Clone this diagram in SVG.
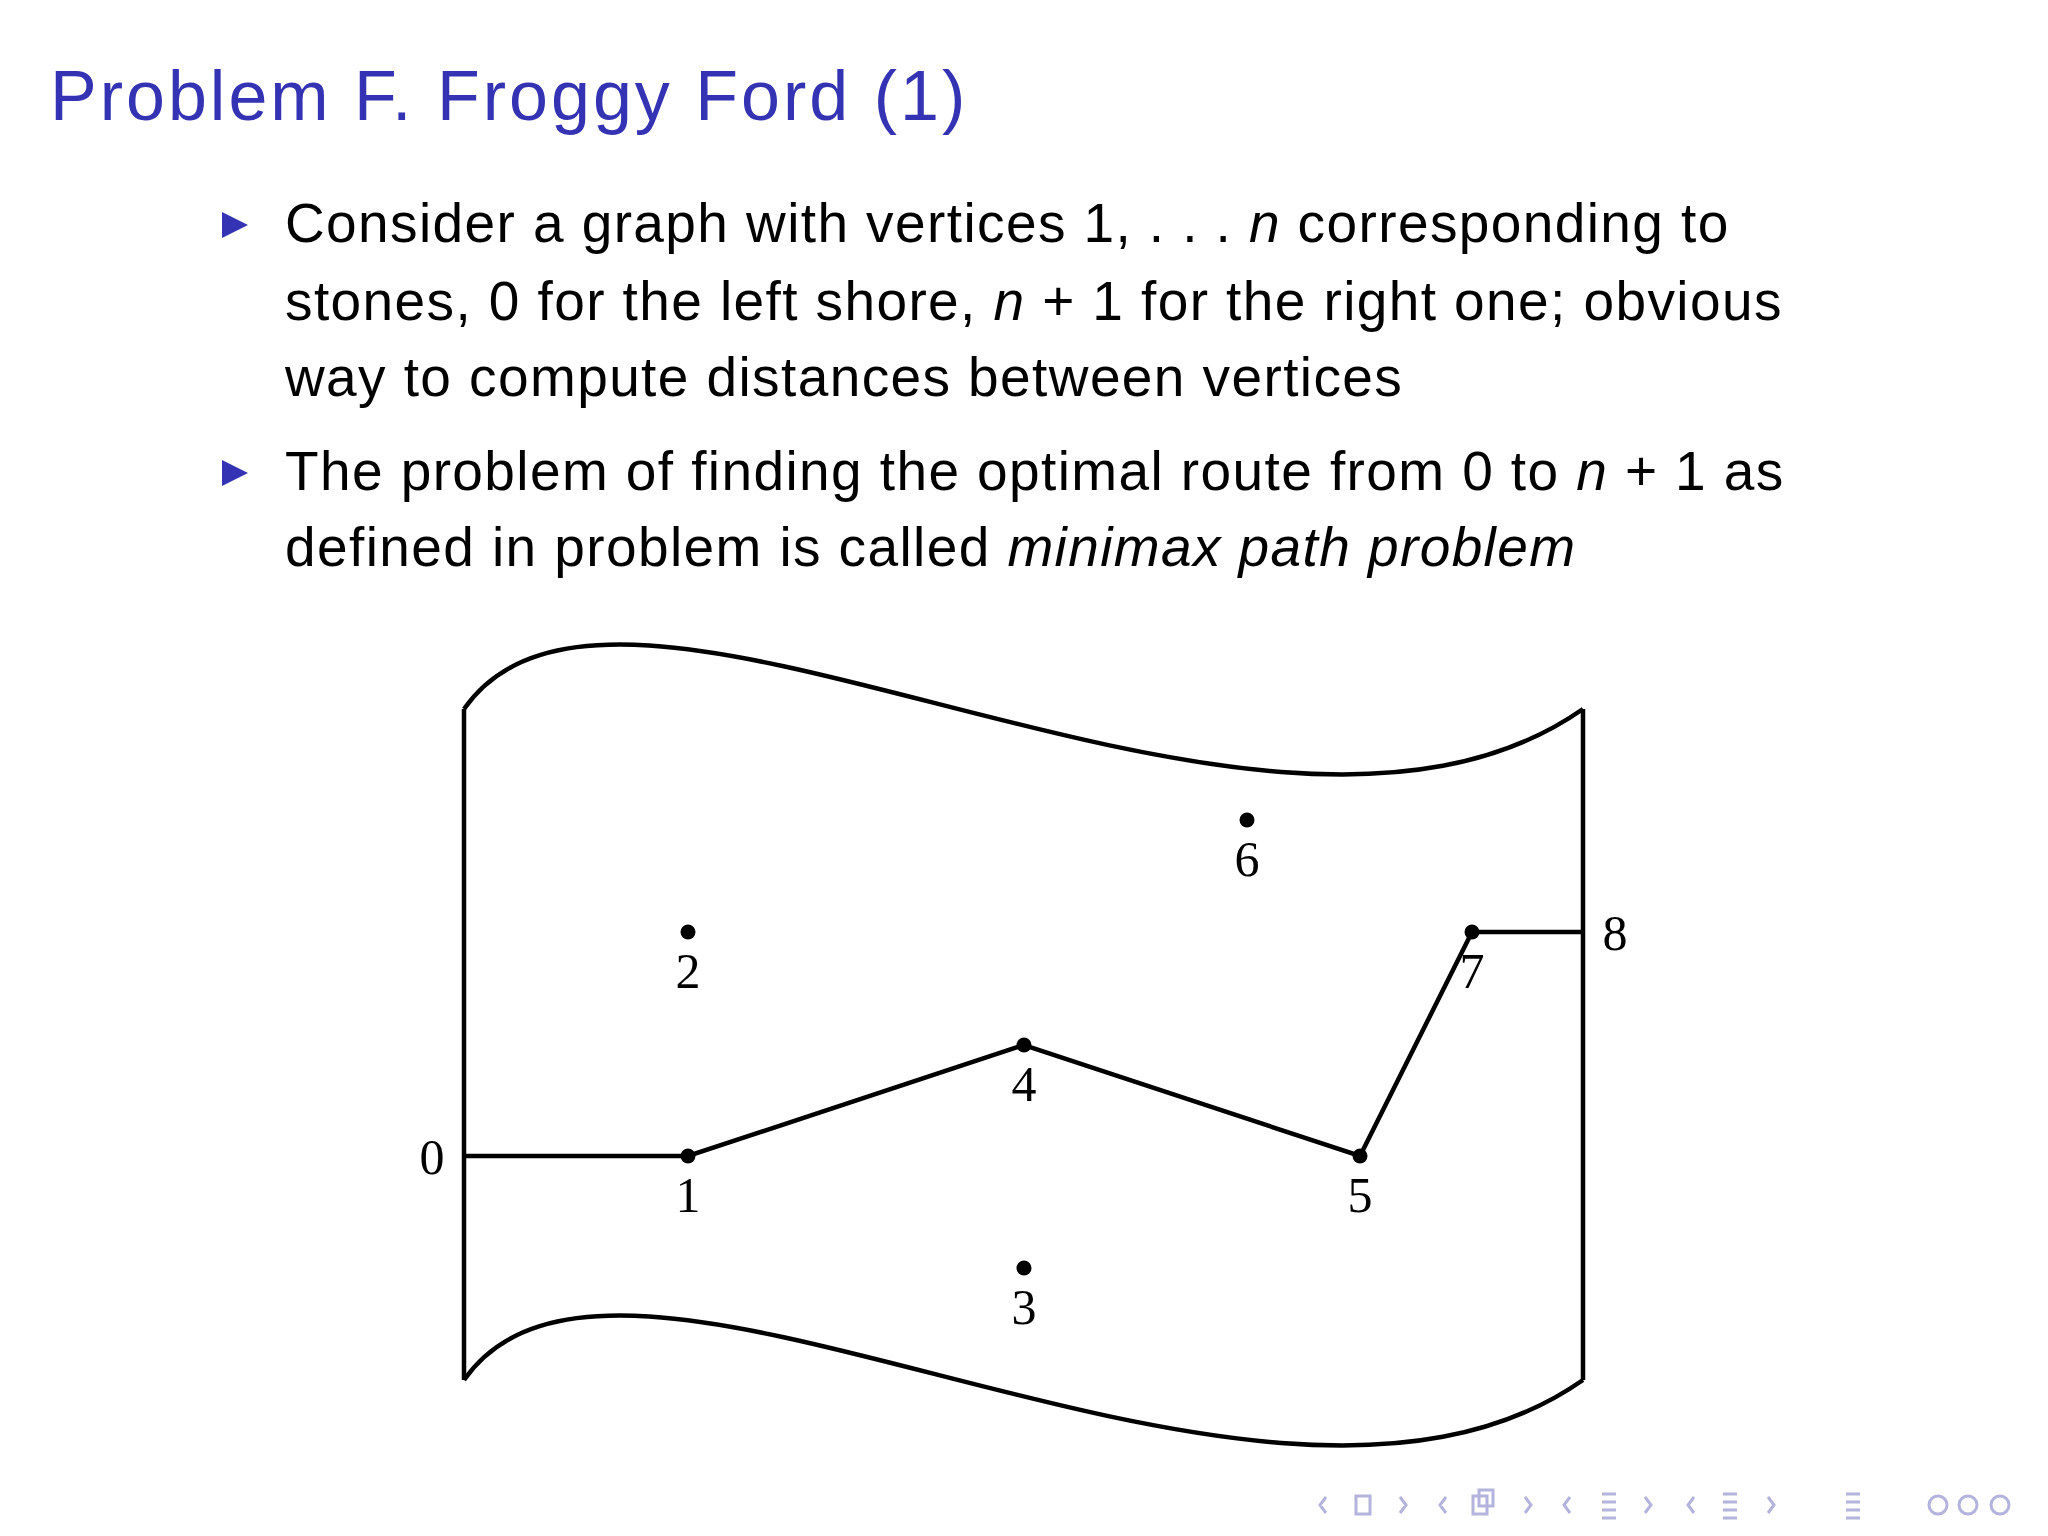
<svg xmlns="http://www.w3.org/2000/svg" width="2048" height="1536" viewBox="0 0 2048 1536">
<style>
.t{font-family:"Liberation Sans",Arial,sans-serif;font-size:55px;letter-spacing:1.4px;fill:#000}
.lab{font-family:"Liberation Serif","Times New Roman",serif;font-size:50px;fill:#000;text-anchor:middle}
.e{stroke:#000;stroke-width:4.5;fill:none}
.nav{fill:none;stroke:#b3b3dd;stroke-width:3}
</style>
<rect width="2048" height="1536" fill="#fff"/>
<text x="50" y="120" font-family="'Liberation Sans',Arial,sans-serif" font-size="70" letter-spacing="3" fill="#3333b3">Problem F. Froggy Ford (1)</text>
<g fill="#3333b3"><polygon points="222,212 248,225 222,238"/><polygon points="222,460 248,473 222,486"/></g>
<text class="t" x="285" y="242">Consider a graph with vertices 1, . . . <tspan font-style="italic">n</tspan> corresponding to</text>
<text class="t" x="285" y="320">stones, 0 for the left shore, <tspan font-style="italic">n</tspan> + 1 for the right one; obvious</text>
<text class="t" x="285" y="396">way to compute distances between vertices</text>
<text class="t" x="285" y="490">The problem of finding the optimal route from 0 to <tspan font-style="italic">n</tspan> + 1 as</text>
<text class="t" x="285" y="566">defined in problem is called <tspan font-style="italic">minimax path problem</tspan></text>
<g id="river">
<path class="e" d="M464,709 C620,485 1260,935 1583,709"/>
<path class="e" d="M464,1380 C620,1156 1260,1606 1583,1380"/>
<path class="e" d="M464,709 V1380 M1583,709 V1380"/>
</g>
<g id="connectors">
<polyline class="e" points="464,1156 688,1156 1024,1045 1360,1156 1472,932 1583,932"/>
</g>
<g id="n0"><text class="lab" x="432" y="1174">0</text></g>
<g id="n1"><circle cx="688" cy="1156" r="7.5"/><text class="lab" x="688" y="1212">1</text></g>
<g id="n2"><circle cx="688" cy="932" r="7.5"/><text class="lab" x="688" y="988">2</text></g>
<g id="n3"><circle cx="1024" cy="1268" r="7.5"/><text class="lab" x="1024" y="1324">3</text></g>
<g id="n4"><circle cx="1024" cy="1045" r="7.5"/><text class="lab" x="1024" y="1101">4</text></g>
<g id="n5"><circle cx="1360" cy="1156" r="7.5"/><text class="lab" x="1360" y="1212">5</text></g>
<g id="n6"><circle cx="1247" cy="820" r="7.5"/><text class="lab" x="1247" y="876">6</text></g>
<g id="n7"><circle cx="1472" cy="932" r="7.5"/><text class="lab" x="1472" y="988">7</text></g>
<g id="n8"><text class="lab" x="1615" y="950">8</text></g>
<g id="nav" class="nav">
<rect x="1356" y="1496" width="14" height="18"/><rect x="1473" y="1496" width="14" height="18"/><rect x="1479" y="1490" width="14" height="16"/>
<path d="M1326,1497 l-6,8 l6,8 M1400,1497 l6,8 l-6,8 M1446,1497 l-6,8 l6,8 M1525,1497 l6,8 l-6,8 M1570,1497 l-6,8 l6,8 M1645,1497 l6,8 l-6,8 M1694,1497 l-6,8 l6,8 M1768,1497 l6,8 l-6,8"/>
<path d="M1602,1494 h14 M1602,1502 h14 M1602,1510 h14 M1602,1518 h14 M1723,1494 h14 M1723,1502 h14 M1723,1510 h14 M1723,1518 h14 M1846,1494 h14 M1846,1502 h14 M1846,1510 h14 M1846,1518 h14"/>
<circle cx="1938" cy="1505" r="9"/><circle cx="1968" cy="1505" r="9"/><circle cx="2000" cy="1505" r="9"/>
</g>
</svg>
